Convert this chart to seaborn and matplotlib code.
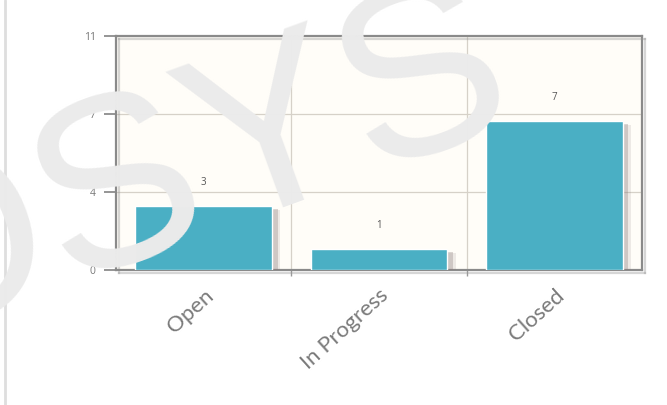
import matplotlib
matplotlib.use("Agg")
import matplotlib.pyplot as plt
import matplotlib.patheffects as pe
import matplotlib.transforms as mtransforms
from matplotlib.lines import Line2D
import seaborn as sns
import pandas as pd

categories = ["Open", "In Progress", "Closed"]
values = [3, 1, 7]
ytick_values = [0, 11 / 3, 22 / 3, 11]
ytick_labels = ["0", "4", "7", "11"]

sns.set_theme(style="white")
plt.rcParams["font.family"] = ["Open Sans", "DejaVu Sans"]

df = pd.DataFrame({"status": categories, "count": values})

fig = plt.figure(figsize=(6.67, 4.05), dpi=100)
ax = fig.add_axes([116 / 667, 1 - 270 / 405, (642 - 116) / 667, (270 - 36) / 405])
ax.set_facecolor("#fffdf8")

sns.barplot(data=df, x="status", y="count", color="#4aafc4", saturation=1,
            width=0.78, ax=ax, zorder=3)

for p in ax.patches:
    p.set_path_effects([pe.SimplePatchShadow(offset=(4, -2), shadow_rgbFace="#8a7a7a", alpha=0.3),
                        pe.SimplePatchShadow(offset=(6, -3), shadow_rgbFace="#8a7a7a", alpha=0.15),
                        pe.Normal()])

ax.bar_label(ax.containers[0], labels=[str(v) for v in values], padding=13,
             fontsize=7, color="#555555")

ax.set_xlim(-0.5, 2.5)
ax.set_ylim(0, 11)
ax.set_yticks(ytick_values)
ax.set_yticklabels(ytick_labels, fontsize=7.5, color="#777777")
ax.set_xticks([0.5, 1.5], minor=True)
ax.set_xticklabels(categories, rotation=42, ha="right", rotation_mode="anchor",
                   fontsize=16, color="#7a7a7a", fontweight="normal",
                   family=["Lato", "DejaVu Sans"])
offset = mtransforms.ScaledTranslation(-4 / 100, -2 / 100, fig.dpi_scale_trans)
for lab in ax.get_xticklabels():
    lab.set_transform(lab.get_transform() + offset)
ax.tick_params(axis="x", which="major", length=0, pad=11)
ax.tick_params(axis="x", which="minor", length=4, color="#999999", direction="out", bottom=True)
ax.tick_params(axis="y", length=8.5, color="#888888", direction="out", left=True, pad=6)

ax.grid(True, axis="y", color="#d6d1c8", linewidth=0.9, zorder=0)
ax.grid(True, axis="x", which="minor", color="#d6d1c8", linewidth=0.9, zorder=0)
ax.set_axisbelow(True)

for s in ax.spines.values():
    s.set_color("#8a8a8a")
    s.set_linewidth(1.6)
    s.set_path_effects([pe.SimpleLineShadow(offset=(2, -2), shadow_color="#999999", alpha=0.4),
                        pe.Normal()])

ax.set_xlabel("")
ax.set_ylabel("")

# left border line
fig.add_artist(Line2D([5 / 667, 5 / 667], [0, 1], color="#dedede", lw=2))

# watermark
fig.text(205 / 667, 1 - 232 / 405, "OSYS", rotation=20, fontsize=175,
         color="#ebebeb", ha="center", va="baseline", rotation_mode="anchor",
         family=["Liberation Sans", "DejaVu Sans"], zorder=20)

fig.savefig("out.png", dpi=100, facecolor="white")
